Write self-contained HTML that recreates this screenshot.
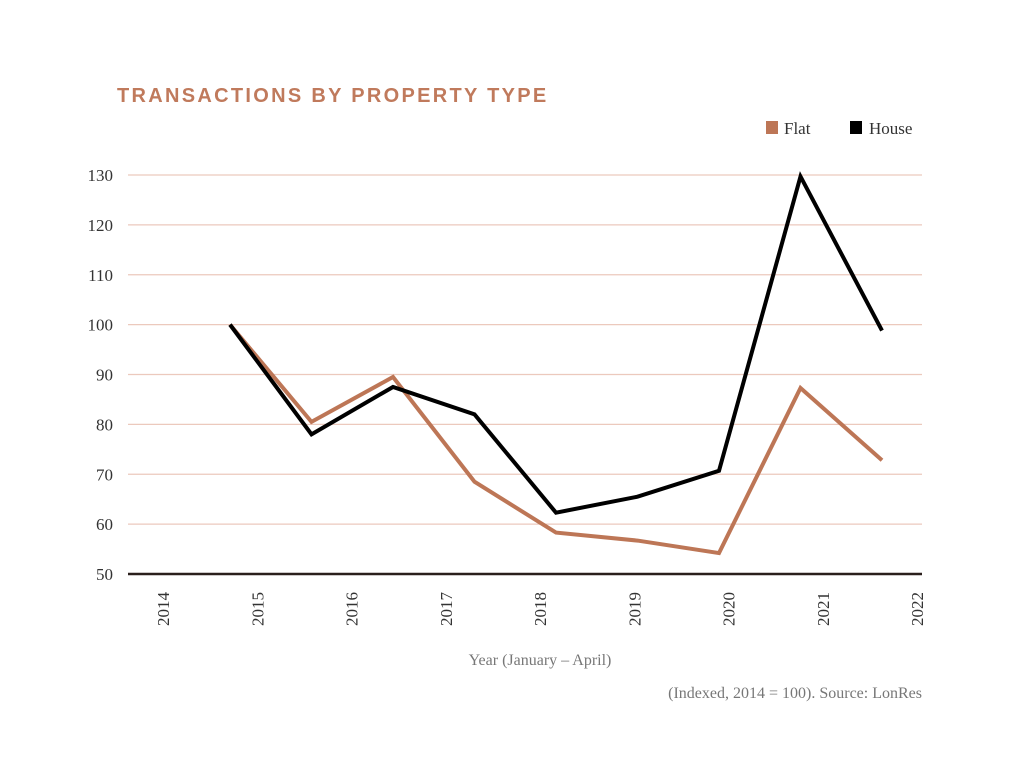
<!DOCTYPE html>
<html><head><meta charset="utf-8"><style>
html,body{margin:0;padding:0;background:#fff;width:1024px;height:773px;overflow:hidden}
</style></head><body>
<svg id="chart" width="1024" height="773" xmlns="http://www.w3.org/2000/svg">
<text x="117" y="102" font-family="Liberation Sans, sans-serif" font-weight="bold" font-size="20" fill="#c07a5c" letter-spacing="2.3">TRANSACTIONS BY PROPERTY TYPE</text>
<g font-family="Liberation Serif, serif" font-size="17" fill="#333">
 <g><rect x="766" y="121" width="12" height="13" fill="#bd7656"/><text x="784" y="134">Flat</text></g>
 <g><rect x="850" y="121" width="12" height="13" fill="#000"/><text x="869" y="134">House</text></g>
</g>
<g id="grid"></g><g id="yt"></g><g id="xt"></g><g id="series"></g>
<text x="540" y="665" text-anchor="middle" font-family="Liberation Serif, serif" font-size="16" fill="#777">Year (January – April)</text>
<text x="922" y="698" text-anchor="end" font-family="Liberation Serif, serif" font-size="16" fill="#777">(Indexed, 2014 = 100). Source: LonRes</text>
</svg>
<script>
const years=["2014","2015","2016","2017","2018","2019","2020","2021","2022"];
const yTicks=[50,60,70,80,90,100,110,120,130];
const flat=[100,80.5,89.5,68.5,58.3,56.7,54.2,87.3,72.8];
const house=[100,78,87.5,82,62.3,65.5,70.7,129.7,98.8];
const NS="http://www.w3.org/2000/svg";
const L=128,R=922,Y0=574,Y1=175;
const y=v=>Y0-(v-50)/80*(Y0-Y1);
const xl=i=>163+i*94.25;
const xp=i=>230+i*81.5;
function mk(t,a,p){const e=document.createElementNS(NS,t);for(const k in a)e.setAttribute(k,a[k]);p.appendChild(e);return e;}
const grid=document.getElementById('grid'),yt=document.getElementById('yt'),xt=document.getElementById('xt'),se=document.getElementById('series');
yTicks.forEach(v=>{
 const ln=mk('line',{x1:L,x2:R,y1:y(v),y2:y(v),stroke:v===50?'#2a1f1c':'#ecc9bd','stroke-width':v===50?2.5:1.3},grid);
 
 
 const t=mk('text',{x:113,y:y(v)+6,'text-anchor':'end','font-family':'Liberation Serif, serif','font-size':17,fill:'#333'},yt);
 t.textContent=v;
 
 
});
years.forEach((s,i)=>{
 const t=mk('text',{transform:`translate(${xl(i)+6},626) rotate(-90)`,'font-family':'Liberation Serif, serif','font-size':17,fill:'#333'},xt);
 t.textContent=s;
 
 
});
function line(d,c,n){
 const p=mk('polyline',{points:d.map((v,i)=>xp(i)+','+y(v)).join(' '),fill:'none',stroke:c,'stroke-width':4,'stroke-linejoin':'miter'},se);
 
 
}
line(flat,'#bd7656','flat-line');
line(house,'#000','house-line');
</script>
</body></html>
